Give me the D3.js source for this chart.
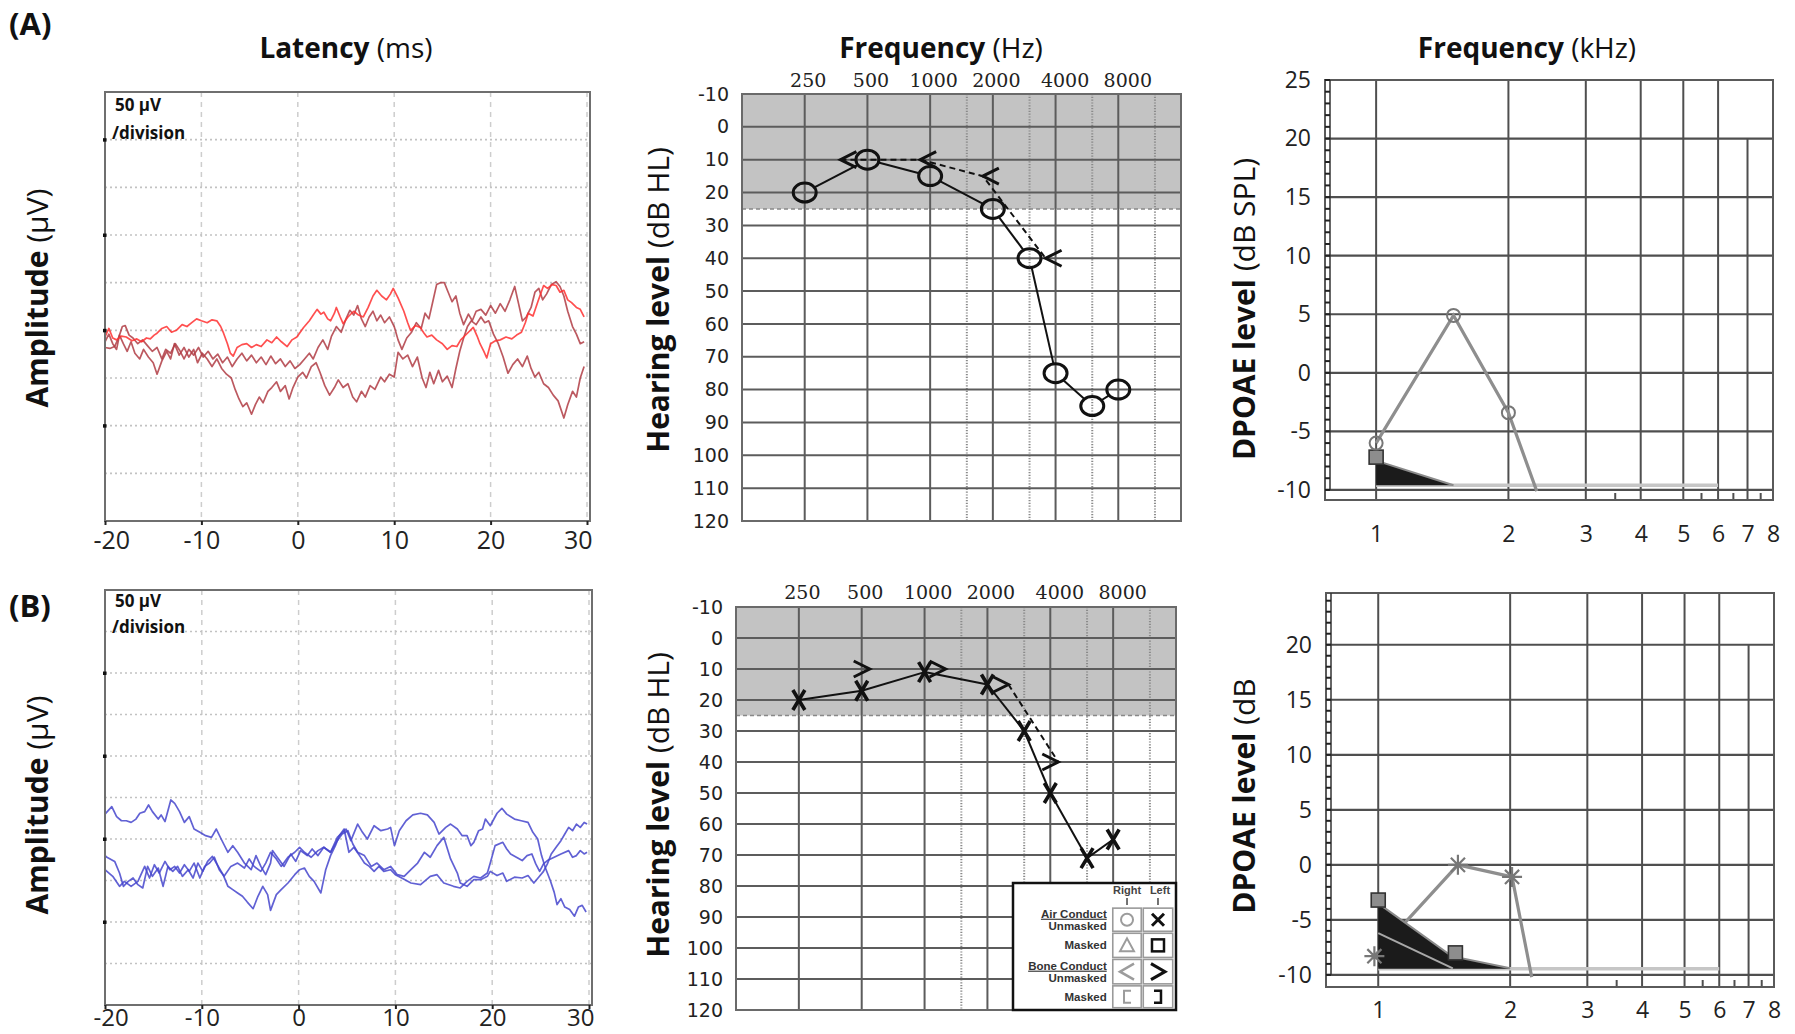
<!DOCTYPE html>
<html><head><meta charset="utf-8">
<script src="https://cdnjs.cloudflare.com/ajax/libs/d3/7.8.5/d3.min.js"></script>
<style>html,body{margin:0;padding:0;background:#fff}svg{display:block}</style>
</head><body>
<svg id="fig" width="1795" height="1034" xmlns="http://www.w3.org/2000/svg"></svg>
<script>
// ---------------- DATA ----------------
const latencyTicks = [-20, -10, 0, 10, 20, 30];
const eegGridA = [200, 150, 100, 50, 0, -50, -100, -150];
const eegGridB = [250, 200, 150, 100, 50, 0, -50, -100, -150];
const eegMarkTicks = [200, 100, 0, -100];

// EEG traces: [latency ms, amplitude µV]
const eegA1 = [[-20,-7],[-19.6,2],[-19.2,-8],[-18.8,-10],[-18.3,-6],[-17.8,-7],[-17.2,-11],[-16.7,-9],[-16.2,-12],[-15.7,-8],[-15.3,-9],[-14.9,-5],[-14.6,-3],[-14.1,2],[-13.6,4],[-13.1,-2],[-12.6,0],[-12.0,6],[-11.5,4],[-11.0,8],[-10.5,12],[-10.0,10],[-9.4,8],[-8.9,11],[-8.4,10],[-8.0,4],[-7.7,-3],[-7.3,-14],[-7.0,-24],[-6.7,-27],[-6.3,-18],[-5.8,-15],[-5.3,-14],[-4.8,-18],[-4.3,-15],[-3.8,-17],[-3.2,-10],[-2.7,-13],[-2.2,-7],[-1.7,-12],[-1.1,-17],[-0.6,-10],[-0.1,-7],[0.6,3],[1.2,10],[1.6,16],[2.0,22],[2.4,17],[2.7,19],[3.1,12],[3.4,10],[3.8,18],[4.0,24],[4.4,14],[4.7,7],[5.2,14],[5.8,20],[6.3,16],[6.8,14],[7.3,24],[7.8,36],[8.2,42],[8.7,36],[9.2,32],[9.6,38],[9.9,44],[10.4,34],[11.0,20],[11.4,8],[11.7,0],[12.2,5],[12.7,3],[13.1,-3],[13.4,-7],[13.9,-5],[14.4,-10],[15.0,-14],[15.5,-20],[16.0,-16],[16.5,-17],[16.9,-10],[17.2,-7],[17.7,-2],[18.2,3],[18.6,-6],[18.9,-14],[19.3,-22],[19.6,-29],[20.0,-14],[20.5,-11],[21.0,-10],[21.6,-7],[22.2,-9],[22.7,-5],[23.2,-2],[23.6,8],[23.9,18],[24.4,15],[24.9,30],[25.5,47],[25.9,44],[26.4,48],[26.8,47],[27.2,40],[27.6,42],[28.0,32],[28.4,29],[28.9,24],[29.3,22],[29.7,14]];
const eegA2 = [[-20,-18],[-19.5,-19],[-19.0,-17],[-18.6,-8],[-18.2,4],[-17.9,5],[-17.5,-5],[-17.1,-8],[-16.6,-14],[-16.1,-10],[-15.6,-16],[-15.1,-22],[-14.6,-18],[-14.1,-30],[-13.7,-20],[-13.2,-24],[-12.7,-14],[-12.2,-22],[-11.8,-30],[-11.3,-20],[-10.8,-26],[-10.3,-18],[-9.8,-28],[-9.3,-22],[-8.8,-30],[-8.3,-25],[-7.8,-34],[-7.3,-28],[-6.8,-38],[-6.3,-30],[-5.8,-24],[-5.3,-32],[-4.8,-26],[-4.3,-34],[-3.8,-28],[-3.3,-36],[-2.8,-27],[-2.3,-35],[-1.8,-30],[-1.3,-38],[-0.8,-32],[-0.3,-40],[0.2,-36],[0.7,-30],[1.2,-24],[1.6,-30],[2.1,-18],[2.6,-10],[3.1,-20],[3.5,-6],[4.0,4],[4.5,-2],[5.0,12],[5.4,21],[5.8,16],[6.2,26],[6.6,12],[7.0,4],[7.4,14],[7.8,20],[8.2,10],[8.6,16],[9.0,8],[9.5,14],[10.0,4],[10.4,-10],[10.8,-20],[11.3,-8],[11.8,-2],[12.3,8],[12.8,2],[13.2,18],[13.6,12],[14.0,30],[14.4,48],[14.8,50],[15.2,50],[15.6,40],[16.0,30],[16.4,36],[16.8,18],[17.2,6],[17.7,17],[18.1,10],[18.5,20],[19.0,22],[19.5,16],[20.0,26],[20.5,18],[21.0,28],[21.5,20],[22.0,32],[22.5,46],[22.9,28],[23.3,10],[23.7,14],[24.2,24],[24.6,40],[25.0,44],[25.4,32],[25.8,38],[26.3,48],[26.8,51],[27.2,46],[27.6,36],[28.0,20],[28.5,4],[28.9,-4],[29.3,-14],[29.7,-12]];
const eegA3 = [[-20,-12],[-19.6,-4],[-19.2,-14],[-18.8,-20],[-18.5,-5],[-18.1,-14],[-17.7,-22],[-17.3,-12],[-16.9,-24],[-16.4,-30],[-16.0,-20],[-15.5,-28],[-15.0,-34],[-14.6,-46],[-14.1,-32],[-13.6,-22],[-13.2,-30],[-12.8,-14],[-12.3,-26],[-11.8,-18],[-11.3,-28],[-10.8,-20],[-10.4,-34],[-9.9,-24],[-9.4,-30],[-8.9,-38],[-8.4,-30],[-7.9,-40],[-7.4,-46],[-6.9,-50],[-6.5,-62],[-6.1,-72],[-5.7,-80],[-5.3,-76],[-4.8,-88],[-4.4,-78],[-4.0,-70],[-3.6,-76],[-3.1,-64],[-2.7,-60],[-2.2,-54],[-1.8,-64],[-1.3,-58],[-0.9,-72],[-0.5,-60],[0.0,-49],[0.5,-44],[0.9,-50],[1.4,-38],[1.9,-34],[2.3,-44],[2.8,-58],[3.3,-68],[3.8,-60],[4.2,-52],[4.7,-60],[5.2,-56],[5.7,-70],[6.1,-75],[6.6,-64],[7.0,-70],[7.5,-58],[8.0,-62],[8.6,-49],[9.0,-54],[9.5,-46],[10.0,-49],[10.4,-23],[10.9,-30],[11.4,-26],[11.9,-38],[12.4,-28],[12.9,-50],[13.3,-60],[13.7,-44],[14.1,-56],[14.6,-42],[15.0,-54],[15.5,-48],[16.0,-60],[16.4,-40],[16.8,-22],[17.2,-8],[17.6,4],[18.0,10],[18.5,6],[19.0,14],[19.4,8],[19.8,10],[20.3,-4],[20.8,-14],[21.3,-28],[21.8,-45],[22.3,-36],[22.8,-30],[23.3,-38],[23.8,-27],[24.2,-40],[24.6,-49],[25.0,-44],[25.5,-56],[26.0,-60],[26.5,-68],[27.0,-74],[27.6,-92],[28.0,-78],[28.5,-64],[28.9,-70],[29.3,-50],[29.7,-38]];
const eegB1 = [[-20,30],[-19.3,39],[-18.8,27],[-18.3,22],[-17.8,22],[-17.3,20],[-16.8,24],[-16.4,31],[-15.9,33],[-15.5,41],[-15.1,33],[-14.5,24],[-14.2,29],[-13.8,21],[-13.2,47],[-12.8,43],[-12.3,33],[-11.8,20],[-11.3,27],[-10.8,12],[-10.2,8],[-9.6,4],[-9.0,2],[-8.5,12],[-8.0,0],[-7.3,-16],[-6.8,-8],[-6.3,-16],[-5.6,-29],[-4.9,-37],[-4.4,-20],[-3.9,-33],[-3.4,-43],[-2.9,-29],[-2.7,-14],[-2.2,-22],[-1.5,-33],[-0.8,-18],[-0.3,-27],[0.2,-14],[0.9,-20],[1.4,-12],[2.0,-20],[2.6,-10],[3.3,-16],[4.0,2],[4.9,12],[5.4,-2],[6.1,18],[6.6,8],[7.1,0],[7.8,16],[8.5,10],[9.2,12],[9.5,14],[9.9,-8],[10.4,10],[11.1,22],[11.8,29],[12.6,31],[13.3,29],[14.0,20],[14.5,6],[15.2,14],[15.7,18],[16.4,12],[16.9,4],[17.4,4],[17.8,-8],[18.1,-4],[18.6,10],[19.0,12],[19.3,24],[19.8,16],[20.5,31],[21.0,37],[21.5,30],[22.3,24],[23.0,22],[23.7,20],[24.2,8],[24.7,0],[25.1,-20],[25.5,-35],[26.0,-50],[26.4,-64],[26.7,-79],[27.1,-72],[27.5,-82],[28.0,-85],[28.5,-93],[28.9,-82],[29.3,-80],[29.7,-88]];
const eegB2 = [[-20,-20],[-19.8,-22],[-19.0,-27],[-18.5,-41],[-18.1,-57],[-17.6,-51],[-17.1,-47],[-16.6,-55],[-16.1,-59],[-15.6,-33],[-15.1,-45],[-14.5,-35],[-14.0,-57],[-13.5,-33],[-13.0,-39],[-12.5,-33],[-12.0,-45],[-11.4,-37],[-10.9,-47],[-10.4,-29],[-9.9,-39],[-9.4,-27],[-8.9,-21],[-8.4,-31],[-7.8,-43],[-7.3,-57],[-6.8,-61],[-6.3,-65],[-5.8,-69],[-5.3,-76],[-4.7,-84],[-4.2,-69],[-3.7,-57],[-3.2,-67],[-2.9,-86],[-2.3,-67],[-1.8,-61],[-1.1,-53],[-0.4,-43],[0.1,-37],[0.6,-35],[1.1,-45],[1.6,-51],[2.3,-65],[2.8,-37],[3.3,-20],[3.8,-8],[4.2,4],[4.7,12],[5.2,-16],[5.7,-10],[6.3,-20],[6.8,-29],[7.3,-33],[7.8,-39],[8.3,-33],[8.8,-39],[9.5,-37],[10.0,-43],[10.8,-48],[11.6,-53],[12.6,-55],[13.6,-45],[14.3,-43],[15.0,-53],[16.0,-57],[16.7,-59],[17.4,-51],[18.1,-45],[18.8,-47],[19.5,-41],[19.8,-29],[20.3,-8],[21.1,-4],[21.5,-12],[21.9,-18],[22.5,-22],[23.1,-26],[23.6,-20],[24.1,-18],[24.5,-30],[24.9,-39],[25.3,-30],[25.7,-26],[26.4,-22],[27.1,-18],[27.9,-14],[28.3,-22],[28.7,-20],[29.1,-14],[29.5,-18],[29.8,-16]];
const eegB3 = [[-20,-37],[-19.8,-39],[-19.2,-45],[-18.5,-57],[-18.0,-51],[-17.3,-57],[-16.6,-51],[-15.9,-33],[-15.4,-47],[-14.9,-31],[-14.4,-41],[-13.8,-27],[-13.3,-37],[-12.8,-33],[-12.3,-41],[-11.8,-31],[-11.3,-39],[-10.8,-29],[-10.2,-47],[-9.7,-33],[-9.2,-29],[-8.7,-22],[-8.2,-37],[-7.7,-45],[-7.0,-33],[-6.3,-29],[-5.6,-35],[-5.1,-24],[-4.6,-33],[-3.9,-39],[-3.4,-29],[-2.9,-16],[-2.3,-24],[-1.8,-33],[-1.1,-22],[-0.4,-16],[0.1,-10],[0.6,-16],[1.3,-22],[2.0,-14],[2.6,-10],[3.3,-16],[4.0,-2],[4.5,6],[5.1,10],[5.6,-6],[6.1,-16],[6.8,-20],[7.5,-33],[8.1,-29],[8.8,-37],[9.5,-33],[10.2,-43],[10.9,-45],[11.6,-37],[12.3,-29],[13.0,-16],[13.6,-22],[14.3,-8],[15.0,2],[15.7,-24],[16.4,-41],[16.7,-53],[17.4,-57],[18.1,-49],[18.8,-49],[19.5,-45],[19.8,-39],[20.5,-44],[21.1,-41],[21.5,-51],[22.3,-46],[23.1,-47],[23.7,-44],[24.3,-53],[24.8,-46],[25.3,-39],[25.7,-30],[26.1,-18],[26.6,-10],[27.1,-2],[27.5,6],[27.9,14],[28.3,10],[28.7,18],[29.1,14],[29.5,20],[29.8,18]];

// Audiograms
const audioFreqs = [250, 500, 1000, 2000, 3000, 4000, 6000, 8000];
const octaveFreqs = [250, 500, 1000, 2000, 4000, 8000];
const interOctaveFreqs = [1500, 3000, 6000, 12000];
const hearingTicks = [-10, 0, 10, 20, 30, 40, 50, 60, 70, 80, 90, 100, 110, 120];
const normalLimit = 25;
const airRightA = [20, 10, 15, 25, 40, 75, 85, 80];
const boneFreqs = [500, 1000, 2000, 4000];
const boneRightA = [10, 10, 15, 40];
const boneLinkedA = [true, true, true, true];
const airLeftB = [20, 17, 11, 15, 30, 50, 71, 65];
const boneLeftB = [10, 10, 15, 40];
const boneLinkedB = [false, false, true, true];
const legendRows = ["Air Conduct|Unmasked", "Masked", "Bone Conduct|Unmasked", "Masked"];

// DPOAE
const dpFreqTicks = [1, 2, 3, 4, 5, 6, 7, 8];
const dpMinorTicks = [3.5, 5.5, 6.5, 7.5];
const dpLevelTicksA = [25, 20, 15, 10, 5, 0, -5, -10];
const dpLevelTicksB = [20, 15, 10, 5, 0, -5, -10];
const dpFreqA = [1, 1.5, 2, 2.32];
const dpLevelA = [-6.0, 4.9, -3.4, -10.1];
const dpMarkedA = [true, true, true, false];
const dpFreqB = [0.98, 1.52, 2.02, 2.24];
const dpLevelB = [-8.3, 0, -1.1, -10.2];
const dpMarkedB = [true, true, true, false];
const nfFreqA = [1, 1.5];
const nfLevelA = [-7.5, -9.6];
const nfSquareFreqA = [1];
const nfSquareLevelA = [-7.2];
const nfFreqB = [1, 1.47, 2];
const nfLevelB = [-3.5, -8.3, -9.4];
const nfInnerFreqB = [1, 1.48];
const nfInnerLevelB = [-6.2, -9.4];
const nfSquareFreqB = [1, 1.5];
const nfSquareLevelB = [-3.2, -8.0];
const noiseLineFreq = [1, 6];
const noiseFloorA = -9.6;
const noiseFloorB = -9.45;

// ---------------- DRAWING ----------------
const svg = d3.select("#fig");
const SANS = "'Open Sans','Noto Sans',sans-serif";

function mixedLabel(x, y, bold, normal, size, rotate) {
  const t = svg.append("text")
    .attr("transform", `translate(${x},${y})${rotate ? " rotate(-90)" : ""}`)
    .attr("text-anchor", "middle").attr("dy", "0.36em")
    .attr("font-family", SANS).attr("font-size", size).attr("fill", "#111");
  t.append("tspan").attr("font-weight", 700).text(bold);
  if (normal) t.append("tspan").attr("font-weight", 400).text("\u00a0" + normal);
}

function plainText(x, y, txt, size, weight, anchor) {
  return svg.append("text").attr("x", x).attr("y", y).attr("font-family", SANS)
    .attr("font-size", size).attr("font-weight", weight).attr("text-anchor", anchor || "start")
    .attr("fill", "#111").text(txt);
}

// ---- EEG ----
function drawEEG(box, xEnd, yDomain, grid, traces, colors, pad, fsize) {
  const x = d3.scaleLinear().domain([-20, 30]).range([box.left, xEnd]);
  const y = d3.scaleLinear().domain(yDomain).range([box.bottom, box.top]);
  const g = svg.append("g");
  g.selectAll(null).data(latencyTicks.slice(1)).join("line")
    .attr("x1", d => x(d)).attr("x2", d => x(d)).attr("y1", box.top).attr("y2", box.bottom)
    .attr("stroke", "#cdcdcd").attr("stroke-width", 1.5).attr("stroke-dasharray", "5 5");
  g.selectAll(null).data(grid).join("line")
    .attr("x1", box.left).attr("x2", box.right).attr("y1", d => y(d)).attr("y2", d => y(d))
    .attr("stroke", "#c2c2c2").attr("stroke-width", 1.6).attr("stroke-dasharray", "2 3");
  const line = d3.line().x(d => x(d[0])).y(d => y(d[1]));
  traces.forEach((t, i) => g.append("path").attr("d", line(t)).attr("fill", "none")
    .attr("stroke", colors[i]).attr("stroke-width", 1.7).attr("stroke-opacity", 0.85)
    .attr("stroke-linejoin", "round"));
  g.append("rect").attr("x", box.left).attr("y", box.top)
    .attr("width", box.right - box.left).attr("height", box.bottom - box.top)
    .attr("fill", "none").attr("stroke", "#6f6f6f").attr("stroke-width", 2);
  g.selectAll(null).data(eegMarkTicks).join("rect")
    .attr("x", box.left - 2).attr("y", d => y(d) - 1.5).attr("width", 3.5).attr("height", 3.5).attr("fill", "#111");
  const ax = d3.axisBottom(x).tickValues(latencyTicks).tickSize(4).tickPadding(pad).tickFormat(d => String(d));
  const ag = g.append("g").attr("transform", `translate(0,${box.bottom})`).call(ax);
  ag.select(".domain").remove();
  ag.selectAll(".tick line").attr("stroke", "#222").attr("stroke-width", 2);
  ag.selectAll(".tick text").attr("font-family", SANS).attr("font-size", fsize).attr("fill", "#222");
  ag.selectAll(".tick text").filter(d => d === latencyTicks[0]).attr("text-anchor", "start").attr("x", -12);
  ag.selectAll(".tick text").filter(d => d === latencyTicks[latencyTicks.length - 1]).attr("text-anchor", "end").attr("x", 5);
}

const eegBoxA = {left: 105, right: 590, top: 92, bottom: 521};
const eegBoxB = {left: 105, right: 592, top: 590, bottom: 1005};
drawEEG(eegBoxA, 587, [-200, 250], eegGridA, [eegA3, eegA2, eegA1], ["#b03c44", "#b03c44", "#ff3030"], 6, 25);
drawEEG(eegBoxB, 589, [-200, 300], eegGridB, [eegB1, eegB2, eegB3], ["#4545cc", "#4545cc", "#4545cc"], 0, 24);

plainText(115, 111, "50 \u00b5V", 17, 700);
plainText(112, 139, "/division", 17, 700);
plainText(115, 607, "50 \u00b5V", 17, 700);
plainText(112, 633, "/division", 17, 700);

// ---- Audiogram ----
function ellipseR(rx, ry, dx, dy) {
  const th = Math.atan2(dy, dx);
  return (rx * ry) / Math.sqrt(Math.pow(ry * Math.cos(th), 2) + Math.pow(rx * Math.sin(th), 2));
}

function drawAudiogram(box, air, bone, linked, ear, labelPad) {
  const x = d3.scaleLog().base(2).domain([125, 16000]).range([box.left, box.right]);
  const y = d3.scaleLinear().domain([-10, 120]).range([box.top, box.bottom]);
  const g = svg.append("g");
  g.append("rect").attr("x", box.left).attr("y", y(-10)).attr("width", box.right - box.left)
    .attr("height", y(normalLimit) - y(-10)).attr("fill", "#c3c3c3");
  g.selectAll(null).data(interOctaveFreqs).join("line")
    .attr("x1", d => x(d)).attr("x2", d => x(d)).attr("y1", box.top).attr("y2", box.bottom)
    .attr("stroke", "#8a8a8a").attr("stroke-width", 2).attr("stroke-dasharray", "1.2 1.6");
  g.selectAll(null).data(hearingTicks).join("line")
    .attr("x1", box.left).attr("x2", box.right).attr("y1", d => y(d)).attr("y2", d => y(d))
    .attr("stroke", "#5c5c5c").attr("stroke-width", 2);
  g.selectAll(null).data(octaveFreqs).join("line")
    .attr("x1", d => x(d)).attr("x2", d => x(d)).attr("y1", box.top).attr("y2", box.bottom)
    .attr("stroke", "#5c5c5c").attr("stroke-width", 2);
  g.append("line").attr("x1", box.left).attr("x2", box.right).attr("y1", y(normalLimit)).attr("y2", y(normalLimit))
    .attr("stroke", "#888").attr("stroke-width", 1.6).attr("stroke-dasharray", "4 3");
  g.append("rect").attr("x", box.left).attr("y", box.top).attr("width", box.right - box.left)
    .attr("height", box.bottom - box.top).attr("fill", "none").attr("stroke", "#6a6a6a").attr("stroke-width", 2);

  const ay = d3.axisLeft(y).tickValues(hearingTicks).tickSize(0).tickPadding(13).tickFormat(d => String(d));
  const ayg = g.append("g").attr("transform", `translate(${box.left},0)`).call(ay);
  ayg.select(".domain").remove();
  ayg.selectAll("text").attr("font-family", "'DejaVu Sans',sans-serif").attr("font-size", 19).attr("fill", "#222");

  const axT = d3.axisTop(x).tickValues(octaveFreqs).tickSize(0).tickPadding(labelPad).tickFormat(d => String(d));
  const axg = g.append("g").attr("transform", `translate(3,${box.top})`).call(axT);
  axg.select(".domain").remove();
  axg.selectAll("text").attr("font-family", "'DejaVu Serif',serif").attr("font-size", 19).attr("fill", "#222")
    .attr("x", d => (d >= 4000 ? 6 : 0));

  const pts = audioFreqs.map((f, i) => ({x: x(f), y: y(air[i])}));
  const rx = 11.5, ry = 9.5;
  for (let i = 0; i < pts.length - 1; i++) {
    const a = pts[i], b = pts[i + 1];
    const dx = b.x - a.x, dy = b.y - a.y, len = Math.hypot(dx, dy);
    let t0 = 0, t1 = 1;
    if (ear === "right") {
      t0 = ellipseR(rx, ry, dx, dy) / len;
      t1 = 1 - ellipseR(rx, ry, dx, dy) / len;
    }
    if (t1 > t0) g.append("line").attr("x1", a.x + dx * t0).attr("y1", a.y + dy * t0)
      .attr("x2", a.x + dx * t1).attr("y2", a.y + dy * t1).attr("stroke", "#111").attr("stroke-width", 2);
  }
  const bpts = boneFreqs.map((f, i) => {
    const ai = audioFreqs.indexOf(f);
    const overlap = Math.abs(air[ai] - bone[i]) < 3;
    const cx = ear === "right" ? x(f) - 2 - (overlap ? 17 : 0) : x(f) + (overlap ? 13 : 0);
    return {cx: cx, cy: y(bone[i]), tip: ear === "right" ? cx - 8 : cx + 8, linked: linked[i]};
  });
  const lp = bpts.filter(p => p.linked);
  g.append("path").attr("d", d3.line().x(p => p.tip).y(p => p.cy)(lp)).attr("fill", "none")
    .attr("stroke", "#111").attr("stroke-width", 2).attr("stroke-dasharray", "6 4");
  bpts.forEach(p => {
    const d = ear === "right" ? "M8,-8L-8,0L8,8" : "M-8,-8L8,0L-8,8";
    g.append("path").attr("transform", `translate(${p.cx},${p.cy})`).attr("d", d)
      .attr("fill", "none").attr("stroke", "#111").attr("stroke-width", 3).attr("stroke-linejoin", "miter");
  });
  pts.forEach(p => {
    if (ear === "right") {
      g.append("ellipse").attr("cx", p.x).attr("cy", p.y).attr("rx", rx).attr("ry", ry)
        .attr("fill", "none").attr("stroke", "#111").attr("stroke-width", 3);
    } else {
      g.append("path").attr("transform", `translate(${p.x},${p.y})`).attr("d", "M-6,-10L6,10M6,-10L-6,10")
        .attr("fill", "none").attr("stroke", "#111").attr("stroke-width", 3.6);
    }
  });
  return {x, y};
}

const audBoxA = {left: 742, right: 1181, top: 94, bottom: 521};
const audBoxB = {left: 736, right: 1176, top: 607, bottom: 1010};
drawAudiogram(audBoxA, airRightA, boneRightA, boneLinkedA, "right", 7);
drawAudiogram(audBoxB, airLeftB, boneLeftB, boneLinkedB, "left", 8);

// legend in B
(function legend() {
  const lb = {left: 1013, right: 1176, top: 883, bottom: 1010};
  const W = lb.right - lb.left, H = lb.bottom - lb.top;
  const g = svg.append("g");
  g.append("rect").attr("x", lb.left).attr("y", lb.top).attr("width", W).attr("height", H)
    .attr("fill", "#fff").attr("stroke", "#111").attr("stroke-width", 2.5);
  const colX = [lb.left + 0.606 * W, lb.left + 0.793 * W, lb.left + 0.986 * W];
  const rowY = [0.19, 0.388, 0.594, 0.802, 0.99].map(f => lb.top + f * H);
  for (let r = 0; r < 4; r++) for (let c = 0; c < 2; c++) {
    g.append("rect").attr("x", colX[c] + 1).attr("y", rowY[r] + 1)
      .attr("width", colX[c + 1] - colX[c] - 2).attr("height", rowY[r + 1] - rowY[r] - 2)
      .attr("fill", "#fff").attr("stroke", "#9a9a9a").attr("stroke-width", 1.6);
  }
  const LF = "'Liberation Sans',Arial,sans-serif";
  const cx = [(colX[0] + colX[1]) / 2, (colX[1] + colX[2]) / 2];
  g.append("text").attr("x", cx[0]).attr("y", lb.top + 11).attr("text-anchor", "middle")
    .attr("font-family", LF).attr("font-size", 11).attr("font-weight", 700).attr("fill", "#444").text("Right");
  g.append("text").attr("x", cx[1] + 2).attr("y", lb.top + 11).attr("text-anchor", "middle")
    .attr("font-family", LF).attr("font-size", 11).attr("font-weight", 700).attr("fill", "#444").text("Left");
  cx.forEach(c => g.append("line").attr("x1", c).attr("x2", c).attr("y1", lb.top + 15).attr("y2", lb.top + 22)
    .attr("stroke", "#444").attr("stroke-width", 1.5));
  const labX = lb.left + 0.575 * W;
  legendRows.forEach((txt, r) => {
    const parts = txt.split("|");
    const mid = (rowY[r] + rowY[r + 1]) / 2;
    if (parts.length === 2) {
      g.append("text").attr("x", labX).attr("y", mid - 2).attr("text-anchor", "end")
        .attr("font-family", LF).attr("font-size", 11.5).attr("font-weight", 700).attr("fill", "#333")
        .attr("text-decoration", "underline").text(parts[0]);
      g.append("text").attr("x", labX).attr("y", mid + 10).attr("text-anchor", "end")
        .attr("font-family", LF).attr("font-size", 11.5).attr("font-weight", 700).attr("fill", "#333").text(parts[1]);
    } else {
      g.append("text").attr("x", labX).attr("y", mid + 4).attr("text-anchor", "end")
        .attr("font-family", LF).attr("font-size", 11.5).attr("font-weight", 700).attr("fill", "#333").text(parts[0]);
    }
  });
  const mids = [0, 1, 2, 3].map(r => (rowY[r] + rowY[r + 1]) / 2);
  const gray = "#9c9c9c";
  g.append("circle").attr("cx", cx[0]).attr("cy", mids[0]).attr("r", 6).attr("fill", "none").attr("stroke", gray).attr("stroke-width", 2);
  g.append("path").attr("transform", `translate(${cx[1]},${mids[0]})`).attr("d", "M-6,-6L6,6M6,-6L-6,6").attr("stroke", "#111").attr("stroke-width", 3);
  g.append("path").attr("transform", `translate(${cx[0]},${mids[1]})`).attr("d", "M0,-7L7,6L-7,6Z").attr("fill", "none").attr("stroke", gray).attr("stroke-width", 2);
  g.append("rect").attr("x", cx[1] - 6).attr("y", mids[1] - 6).attr("width", 12).attr("height", 12).attr("fill", "none").attr("stroke", "#111").attr("stroke-width", 2.5);
  g.append("path").attr("transform", `translate(${cx[0]},${mids[2]})`).attr("d", "M7,-8L-7,0L7,8").attr("fill", "none").attr("stroke", gray).attr("stroke-width", 2.5);
  g.append("path").attr("transform", `translate(${cx[1]},${mids[2]})`).attr("d", "M-7,-8L7,0L-7,8").attr("fill", "none").attr("stroke", "#111").attr("stroke-width", 3);
  g.append("path").attr("transform", `translate(${cx[0]},${mids[3]})`).attr("d", "M4,-6L-3,-6L-3,6L4,6").attr("fill", "none").attr("stroke", gray).attr("stroke-width", 2);
  g.append("path").attr("transform", `translate(${cx[1]},${mids[3]})`).attr("d", "M-4,-6L3,-6L3,6L-4,6").attr("fill", "none").attr("stroke", "#111").attr("stroke-width", 2.5);
})();

// ---- DPOAE ----
function asteriskPath(r) {
  let d = "";
  for (let k = 0; k < 4; k++) {
    const a = k * Math.PI / 4;
    d += `M${(-r * Math.cos(a)).toFixed(2)},${(-r * Math.sin(a)).toFixed(2)}L${(r * Math.cos(a)).toFixed(2)},${(r * Math.sin(a)).toFixed(2)}`;
  }
  return d;
}

function drawDPOAE(box, fmin, yDomain, yTicks, dp, nf, labelPad) {
  const x = d3.scaleLog().domain([fmin, 8]).range([box.left, box.right]);
  const y = d3.scaleLinear().domain(yDomain).range([box.bottom, box.top]);
  const g = svg.append("g");
  const gridC = "#4f4f4f";
  g.selectAll(null).data(yTicks.filter(v => y(v) > box.top + 3)).join("line")
    .attr("x1", box.left).attr("x2", box.right).attr("y1", d => y(d)).attr("y2", d => y(d))
    .attr("stroke", gridC).attr("stroke-width", 2.2);
  g.selectAll(null).data(dpFreqTicks.slice(0, 6)).join("line")
    .attr("x1", d => x(d)).attr("x2", d => x(d)).attr("y1", box.top).attr("y2", box.bottom)
    .attr("stroke", gridC).attr("stroke-width", 2);
  g.append("line").attr("x1", x(7)).attr("x2", x(7)).attr("y1", y(20)).attr("y2", box.bottom)
    .attr("stroke", gridC).attr("stroke-width", 2);
  g.selectAll(null).data(dpMinorTicks).join("line")
    .attr("x1", d => x(d)).attr("x2", d => x(d)).attr("y1", box.bottom - 7).attr("y2", box.bottom)
    .attr("stroke", gridC).attr("stroke-width", 2);
  g.append("rect").attr("x", box.left).attr("y", box.top).attr("width", box.right - box.left)
    .attr("height", box.bottom - box.top).attr("fill", "none").attr("stroke", "#5a5a5a").attr("stroke-width", 2);
  g.append("line").attr("x1", box.left + 5).attr("x2", box.left + 5).attr("y1", box.top).attr("y2", y(-10))
    .attr("stroke", "#333").attr("stroke-width", 1.5);
  g.selectAll(null).data(d3.range(-10, Math.floor(yDomain[1]) + 1)).join("line")
    .attr("x1", box.left).attr("x2", box.left + 5).attr("y1", d => y(d)).attr("y2", d => y(d))
    .attr("stroke", "#222").attr("stroke-width", 2);

  const ay = d3.axisLeft(y).tickValues(yTicks).tickSize(0).tickPadding(14).tickFormat(d => String(d));
  const ayg = g.append("g").attr("transform", `translate(${box.left},0)`).call(ay);
  ayg.select(".domain").remove();
  ayg.selectAll("text").attr("font-family", SANS).attr("font-size", 23).attr("fill", "#222");
  const ax = d3.axisBottom(x).tickValues(dpFreqTicks).tickSize(0).tickPadding(labelPad).tickFormat(d => String(d));
  const axg = g.append("g").attr("transform", `translate(0,${box.bottom})`).call(ax);
  axg.select(".domain").remove();
  axg.selectAll("text").attr("font-family", SANS).attr("font-size", 23).attr("fill", "#222");

  g.append("line").attr("x1", x(noiseLineFreq[0])).attr("x2", x(noiseLineFreq[1]))
    .attr("y1", y(nf.floor)).attr("y2", y(nf.floor)).attr("stroke", "#c6c6c6").attr("stroke-width", 3.5);
  const pts = dp.f.map((f, i) => [x(f), y(dp.v[i])]);
  g.append("path").attr("d", d3.line()(pts)).attr("fill", "none").attr("stroke", "#8e8e8e").attr("stroke-width", 3.2);
  const poly = nf.f.map((f, i) => [x(f), y(nf.v[i])]);
  poly.push([x(nf.f[nf.f.length - 1]), y(nf.floor)]);
  poly.push([x(nf.f[0]), y(nf.floor)]);
  g.append("path").attr("d", "M" + poly.map(p => p.join(",")).join("L") + "Z").attr("fill", "#1b1b1b");
  g.append("path").attr("d", d3.line()(nf.f.map((f, i) => [x(f), y(nf.v[i])]))).attr("fill", "none")
    .attr("stroke", "#8a8a8a").attr("stroke-width", 2);
  if (nf.innerF) {
    g.append("path").attr("d", d3.line()(nf.innerF.map((f, i) => [x(f), y(nf.innerV[i])]))).attr("fill", "none")
      .attr("stroke", "#a8a8a8").attr("stroke-width", 2);
  }
  nf.sqF.forEach((f, i) => g.append("rect").attr("x", x(f) - 7).attr("y", y(nf.sqV[i]) - 7)
    .attr("width", 14).attr("height", 14).attr("fill", "#8d8d8d").attr("stroke", "#333").attr("stroke-width", 1.6));
  pts.forEach((p, i) => {
    if (!dp.marked[i]) return;
    if (dp.marker === "circle") {
      g.append("circle").attr("cx", p[0]).attr("cy", p[1]).attr("r", 6.5).attr("fill", "none")
        .attr("stroke", "#777").attr("stroke-width", 2);
    } else {
      g.append("path").attr("transform", `translate(${p[0]},${p[1]})`).attr("d", asteriskPath(10))
        .attr("stroke", "#777").attr("stroke-width", 2.2);
    }
  });
}

drawDPOAE({left: 1325, right: 1773, top: 80, bottom: 500}, 0.765, [-10.86, 25], dpLevelTicksA,
  {f: dpFreqA, v: dpLevelA, marked: dpMarkedA, marker: "circle"},
  {f: nfFreqA, v: nfLevelA, floor: noiseFloorA, sqF: nfSquareFreqA, sqV: nfSquareLevelA}, 26);
drawDPOAE({left: 1326, right: 1774, top: 593, bottom: 987}, 0.76, [-11.1, 24.7], dpLevelTicksB,
  {f: dpFreqB, v: dpLevelB, marked: dpMarkedB, marker: "asterisk"},
  {f: nfFreqB, v: nfLevelB, floor: noiseFloorB, sqF: nfSquareFreqB, sqV: nfSquareLevelB,
   innerF: nfInnerFreqB, innerV: nfInnerLevelB}, 15);

// ---- titles & labels ----
plainText(9, 35, "(A)", 31, 700);
plainText(9, 617, "(B)", 31, 700);
mixedLabel(346, 48, "Latency", "(ms)", 28, false);
mixedLabel(941, 48, "Frequency", "(Hz)", 28, false);
mixedLabel(1527, 48, "Frequency", "(kHz)", 28, false);
mixedLabel(37, 298, "Amplitude", "(\u03bcV)", 30, true);
mixedLabel(37, 805, "Amplitude", "(\u03bcV)", 30, true);
mixedLabel(658, 300, "Hearing level", "(dB HL)", 30, true);
mixedLabel(658, 805, "Hearing level", "(dB HL)", 30, true);
mixedLabel(1244, 309, "DPOAE level", "(dB SPL)", 30, true);
mixedLabel(1244, 796, "DPOAE level", "(dB", 30, true);
</script>
</body></html>
